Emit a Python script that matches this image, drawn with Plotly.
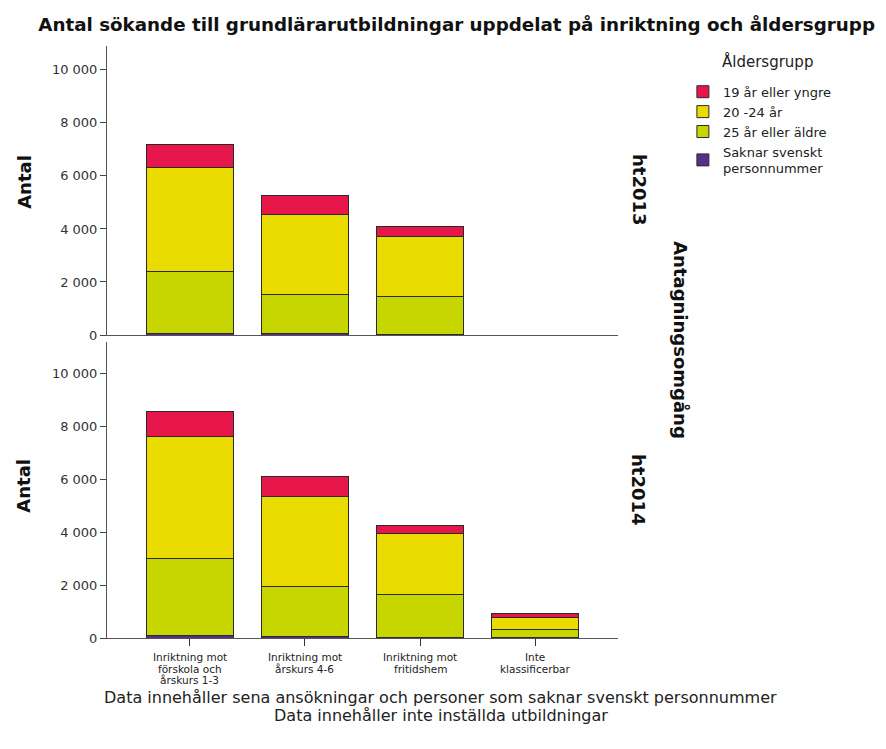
import plotly.graph_objects as go

categories = ["Inriktning mot<br>förskola och<br>årskurs 1-3", "Inriktning mot<br>årskurs 4-6",
              "Inriktning mot<br>fritidshem", "Inte<br>klassificerbar"]
groups = ["Saknar svenskt<br>personnummer", "25 år eller äldre", "20 -24 år", "19 år eller yngre"]
colors = ["#5a2d8c", "#c8d600", "#eadc00", "#e8174b"]
y_ticks = [0, 2000, 4000, 6000, 8000, 10000]

# ht2013
saknar_2013 = [60, 50, 20, None]
aldre_2013 = [2330, 1460, 1450, None]
mellan_2013 = [3920, 3020, 2240, None]
yngre_2013 = [860, 730, 380, None]
# ht2014
saknar_2014 = [80, 70, 30, 20]
aldre_2014 = [2930, 1860, 1630, 310]
mellan_2014 = [4600, 3440, 2300, 440]
yngre_2014 = [950, 750, 290, 150]

data_2013 = [saknar_2013, aldre_2013, mellan_2013, yngre_2013]
data_2014 = [saknar_2014, aldre_2014, mellan_2014, yngre_2014]

FONT = "DejaVu Sans, Verdana, sans-serif"
fig = go.Figure()
for i, g in enumerate(groups):
    fig.add_trace(go.Bar(x=list(range(4)), y=data_2013[i], name=g, marker_color=colors[i],
                         marker_line=dict(color="#2a2a2a", width=1), width=0.75,
                         xaxis="x", yaxis="y", legendgroup=g, showlegend=True))
for i, g in enumerate(groups):
    fig.add_trace(go.Bar(x=list(range(4)), y=data_2014[i], name=g, marker_color=colors[i],
                         marker_line=dict(color="#2a2a2a", width=1), width=0.75,
                         xaxis="x2", yaxis="y2", legendgroup=g, showlegend=False))

axcommon = dict(showline=True, linecolor="#555", linewidth=1, showgrid=False, zeroline=False)
ycommon = dict(tickvals=y_ticks, tickformat=",d", ticks="outside", ticklen=6, tickcolor="#444",
               tickfont=dict(size=13, color="#333"), **axcommon)
fig.update_layout(
    width=878, height=741,
    margin=dict(l=99, r=268, t=38, b=111),
    paper_bgcolor="white", plot_bgcolor="white",
    barmode="stack", separators=", ",
    font=dict(family=FONT, color="#222", size=12),
    title=dict(text="<b>Antal sökande till grundlärarutbildningar uppdelat på inriktning och åldersgrupp</b>",
               x=0.511, xanchor="center", y=0.978, yanchor="middle",
               font=dict(size=18.3, color="#111", family=FONT)),
    xaxis=dict(domain=[0, 1], anchor="y", range=[-0.72, 3.72], showticklabels=False, ticks="",
               tickmode="array", tickvals=list(range(4)), **axcommon),
    xaxis2=dict(domain=[0, 1], anchor="y2", range=[-0.72, 3.72], tickmode="array",
                tickvals=list(range(4)), showticklabels=False, ticks="outside", ticklen=7,
                tickcolor="#333", **axcommon),
    yaxis=dict(domain=[0.5118, 1], anchor="x", range=[0, 10900], **ycommon),
    yaxis2=dict(domain=[0, 0.5], anchor="x2", range=[0, 11200], **ycommon),
    legend=dict(x=1.127, y=0.948, xanchor="left", yanchor="top", traceorder="reversed",
                font=dict(size=13, color="#222"), itemwidth=30, tracegroupgap=0),
)

ann = [
    dict(text="Åldersgrupp", xref="paper", x=1.2935, y=0.973, font=dict(size=15, color="#222")),
    dict(text="<b>Antal</b>", xref="paper", x=-0.163, y=0.770, textangle=-90, font=dict(size=18, color="#111")),
    dict(text="<b>Antal</b>", xref="paper", x=-0.163, y=0.2568, textangle=-90, font=dict(size=18, color="#111")),
    dict(text="<b>ht2013</b>", xref="paper", x=1.041, y=0.7568, textangle=90, font=dict(size=18, color="#111")),
    dict(text="<b>ht2014</b>", xref="paper", x=1.041, y=0.25, textangle=90, font=dict(size=18, color="#111")),
    dict(text="<b>Antagningsomgång</b>", xref="paper", x=1.121, y=0.5034, textangle=90,
         font=dict(size=18, color="#111")),
    dict(text="Data innehåller sena ansökningar och personer som saknar svenskt personnummer",
         xref="paper", x=0.6536, y=-0.0997, font=dict(size=16, color="#222")),
    dict(text="Data innehåller inte inställda utbildningar",
         xref="paper", x=0.6536, y=-0.1301, font=dict(size=16, color="#222")),
]
# category labels under the bottom panel, one line each, at the category positions of x2
for ci, cat in enumerate(categories):
    for k, line in enumerate(cat.split("<br>")):
        ann.append(dict(text=line, xref="x2", x=ci, y=(630 - (649 + 11.5 * k)) / 592,
                        font=dict(size=10.5, color="#222")))
for a in ann:
    a.update(yref="paper", showarrow=False, xanchor="center", yanchor="middle")
    fig.add_annotation(**a)

fig.write_html("out.html")
